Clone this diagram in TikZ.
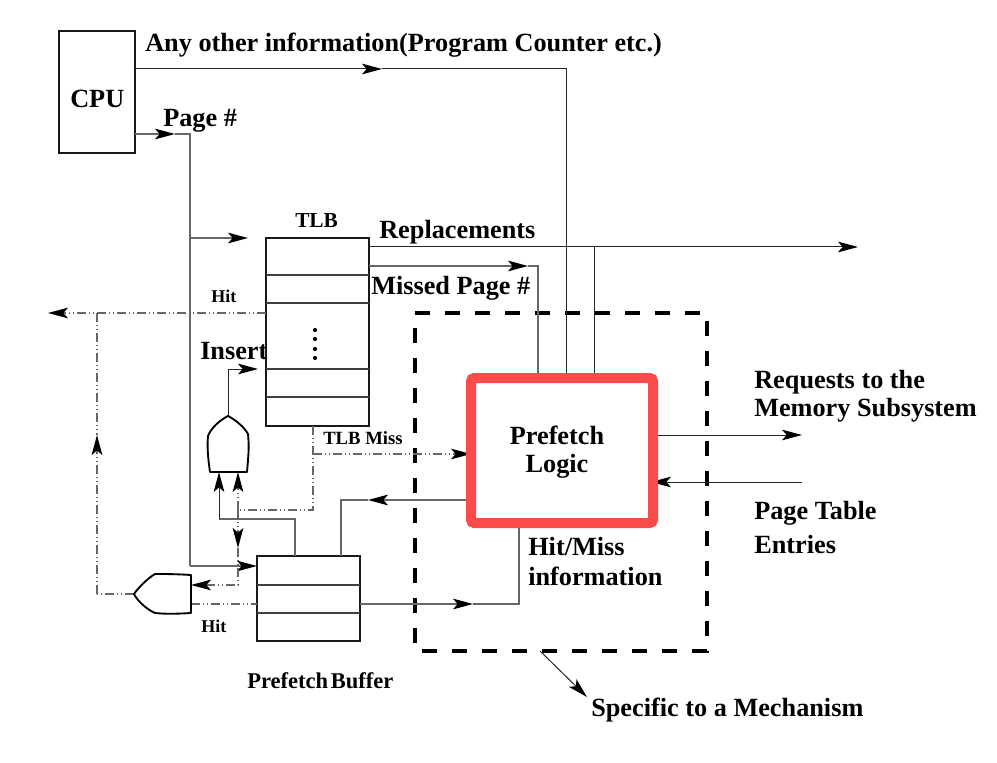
\documentclass[tikz,border=0pt]{standalone}
\usepackage{fontspec}
\setmainfont{Liberation Serif}
\usetikzlibrary{arrows.meta}
\definecolor{redbox}{RGB}{250,75,75}
\tikzset{
  tip/.tip={Stealth[length=15pt,width=8pt,inset=3.5pt]},
  wire/.style={draw=black!60,line width=0.9pt},
  wirek/.style={draw=black!85,line width=0.75pt},
  dotwire/.style={draw=black!60,line width=0.9pt,dash pattern=on 7pt off 2pt on 1pt off 2pt on 1pt off 2pt},
  arr/.style={-{tip[black]}},
  boxn/.style={draw=black!90,line width=1.5pt,inner sep=0pt,fill=white},
  rowline/.style={draw=black!75,line width=0.8pt},
  lab/.style={anchor=base west,inner sep=0pt,yshift=-0.5pt,font=\fontsize{19.7}{22}\selectfont\bfseries},
  slab/.style={anchor=base west,inner sep=0pt,font=\fontsize{14}{16}\selectfont\bfseries},
  gatepath/.style={draw=black,line width=1.4pt,fill=white,line join=round},
}
\begin{document}
\begin{tikzpicture}[x=0.75pt,y=-0.75pt]
\useasboundingbox (0,0) rectangle (997,763);
% boxes
\node[boxn,minimum width=57pt,minimum height=91.5pt] (cpu) at (97,92) {};
\node[boxn,minimum width=77pt,minimum height=141pt] (tlb) at (317.5,332) {};
\node[boxn,minimum width=77pt,minimum height=63.5pt] (buf) at (308.5,598.5) {};
% coordinates
\coordinate (c1) at (135,69); \coordinate (c1m) at (382,69); \coordinate (c1b) at (566,69); \coordinate (c1e) at (566,378);
\coordinate (p1) at (135,134); \coordinate (p1m) at (175,134); \coordinate (p1b) at (190,134);
\coordinate (p2) at (190,566); \coordinate (p3) at (190,238); \coordinate (p4) at (248,238);
\coordinate (p5) at (257,566);
\coordinate (r1) at (369,247); \coordinate (r2) at (858,247); \coordinate (r3) at (594,247); \coordinate (r4) at (594,378);
\coordinate (m1) at (369,266); \coordinate (m2) at (528,266); \coordinate (m3) at (538,266); \coordinate (m4) at (538,378);
\coordinate (h1) at (266,313); \coordinate (h2) at (48,313); \coordinate (h3) at (97,313);
\coordinate (h4) at (97,435); \coordinate (h5) at (97,594); \coordinate (g2t) at (134,594);
\coordinate (g1o) at (228,416); \coordinate (g1b) at (228,369); \coordinate (g1e) at (258,369);
\coordinate (a1) at (219,472); \coordinate (a2) at (219,519); \coordinate (a3) at (295,519); \coordinate (a4) at (295,556);
\coordinate (b1) at (238,472); \coordinate (b2) at (238,510); \coordinate (b3) at (238,548); \coordinate (b4) at (238,585); \coordinate (b5) at (191,585);
\coordinate (t1) at (313,426); \coordinate (t2) at (313,510); \coordinate (t3) at (313,454); \coordinate (t4) at (471,454);
\coordinate (g2h) at (191,604); \coordinate (bh) at (257,604);
\coordinate (d1) at (341,556); \coordinate (d2) at (341,500); \coordinate (d3) at (468,500); \coordinate (d4) at (368,500);
\coordinate (e1) at (360,604); \coordinate (e2) at (473,604); \coordinate (e3) at (519,604); \coordinate (e4) at (519,525);
\coordinate (o1) at (653,435); \coordinate (o2) at (802,435);
\coordinate (i1) at (802,482); \coordinate (i2) at (651,482);
\coordinate (s1) at (540,651); \coordinate (s2) at (587,697);
% TLB rows
\draw[rowline] (266,275) -- (369,275) (266,303) -- (369,303) (266,369) -- (369,369) (266,397) -- (369,397);
\draw[rowline] (257,585) -- (360,585) (257,613) -- (360,613);
\foreach \y in {330,339,349,358} \fill (315,\y) circle (2.1);
% dashed region
\draw[line width=3pt,dash pattern=on 11.25pt off 11.25pt] (415,313) -- (707,313) -- (707,651) -- (415,651) -- cycle;
% wires
\draw[wirek,arr] (c1) -- (c1m); \draw[wirek] (c1m) -- (c1b) -- (c1e);
\draw[wire,arr] (p1) -- (p1m); \draw[wire] (p1m) -- (p1b) -- (p2);
\draw[wire,arr] (p2) -- (p5);
\draw[wire,arr] (p3) -- (p4);
\draw[wirek,arr] (r1) -- (r2); \draw[wirek] (r3) -- (r4);
\draw[wire,arr] (m1) -- (m2); \draw[wire] (m2) -- (m3) -- (m4);
\draw[dotwire,arr] (h1) -- (h2);
\draw[dotwire] (h3) -- (h4); \draw[dotwire,arr] (h5) -- (h4); \draw[dotwire] (g2t) -- (h5);
\draw[wirek,arr] (g1o) -- (g1b) -- (g1e);
\draw[wire] (a4) -- (a3) -- (a2); \draw[wirek,arr] (a2) -- (a1);
\draw[dotwire,arr] (b2) -- (b1); \draw[dotwire,arr] (b2) -- (b3); \draw[dotwire,arr] (b3) -- (b4) -- (b5);
\draw[dotwire] (t1) -- (t2) -- (b2);
\draw[dotwire,arr] (t3) -- (t4);
\draw[dotwire] (g2h) -- (bh);
\draw[wire] (d1) -- (d2) -- (d4); \draw[wire,arr] (d3) -- (d4);
\draw[wire,arr] (e1) -- (e2); \draw[wire] (e2) -- (e3) -- (e4);
\draw[wirek,arr] (o1) -- (o2);
\draw[wirek,arr] (i1) -- (i2);
\draw[wirek,arr] (s1) -- (s2);
% gates
\draw[gatepath] (210,472) -- (247,472) .. controls (249,450) and (249,445) .. (248,434) .. controls (245,428) and (236,420) .. (228,416) .. controls (220,420) and (211,428) .. (208,436) .. controls (207,447) and (208,458) .. (210,472) -- cycle;
\draw[gatepath] (191,575) -- (191,613) .. controls (175,614) and (165,614) .. (155,613) .. controls (148,610) and (138,602) .. (134,594) .. controls (138,588) and (148,578) .. (155,574) .. controls (165,574) and (175,574) .. (191,575) -- cycle;
% red box
\node[draw=redbox,line width=7.5pt,rounded corners=2.5pt,fill=white,minimum width=136.5pt,minimum height=108.75pt,inner sep=0pt] (pl) at (562,450.5) {};
\node[lab,anchor=base] (pl1) at (557,444) {Prefetch};
\node[lab,anchor=base] (pl2) at (557,472) {Logic};
% labels
\node[lab] (tcpu) at (70,107) {CPU};
\node[lab] (tany) at (145,51) {Any other information(Program Counter etc.)};
\node[lab] (tpage) at (163,126) {Page \#};
\node[slab,font=\fontsize{16}{18}\selectfont\bfseries] (ttlb) at (295,228) {TLB};
\node[lab] (trep) at (379,238) {Replacements};
\node[lab] (tmiss) at (371,294) {Missed Page \#};
\node[slab,font=\fontsize{13.5}{15}\selectfont\bfseries] (thit) at (211,303) {Hit};
\node[lab] (tins) at (200,359) {Insert};
\node[slab] (ttm) at (323,444) {TLB Miss};
\node[lab] (treq) at (754,388) {Requests to the};
\node[lab] (tmem) at (754,416) {Memory Subsystem};
\node[lab] (tpt) at (754,519) {Page Table};
\node[lab] (tent) at (754,553) {Entries};
\node[lab] (thm) at (528,555) {Hit/Miss};
\node[lab] (tinf) at (528,585) {information};
\node[slab,font=\fontsize{13.5}{15}\selectfont\bfseries] (thit2) at (201,632) {Hit};
\node[slab,font=\fontsize{16.9}{18}\selectfont\bfseries] (tpb) at (247,688) {\spaceskip=0.12em Prefetch Buffer};
\node[lab] (tspec) at (591,716) {Specific to a Mechanism};
\end{tikzpicture}
\end{document}
